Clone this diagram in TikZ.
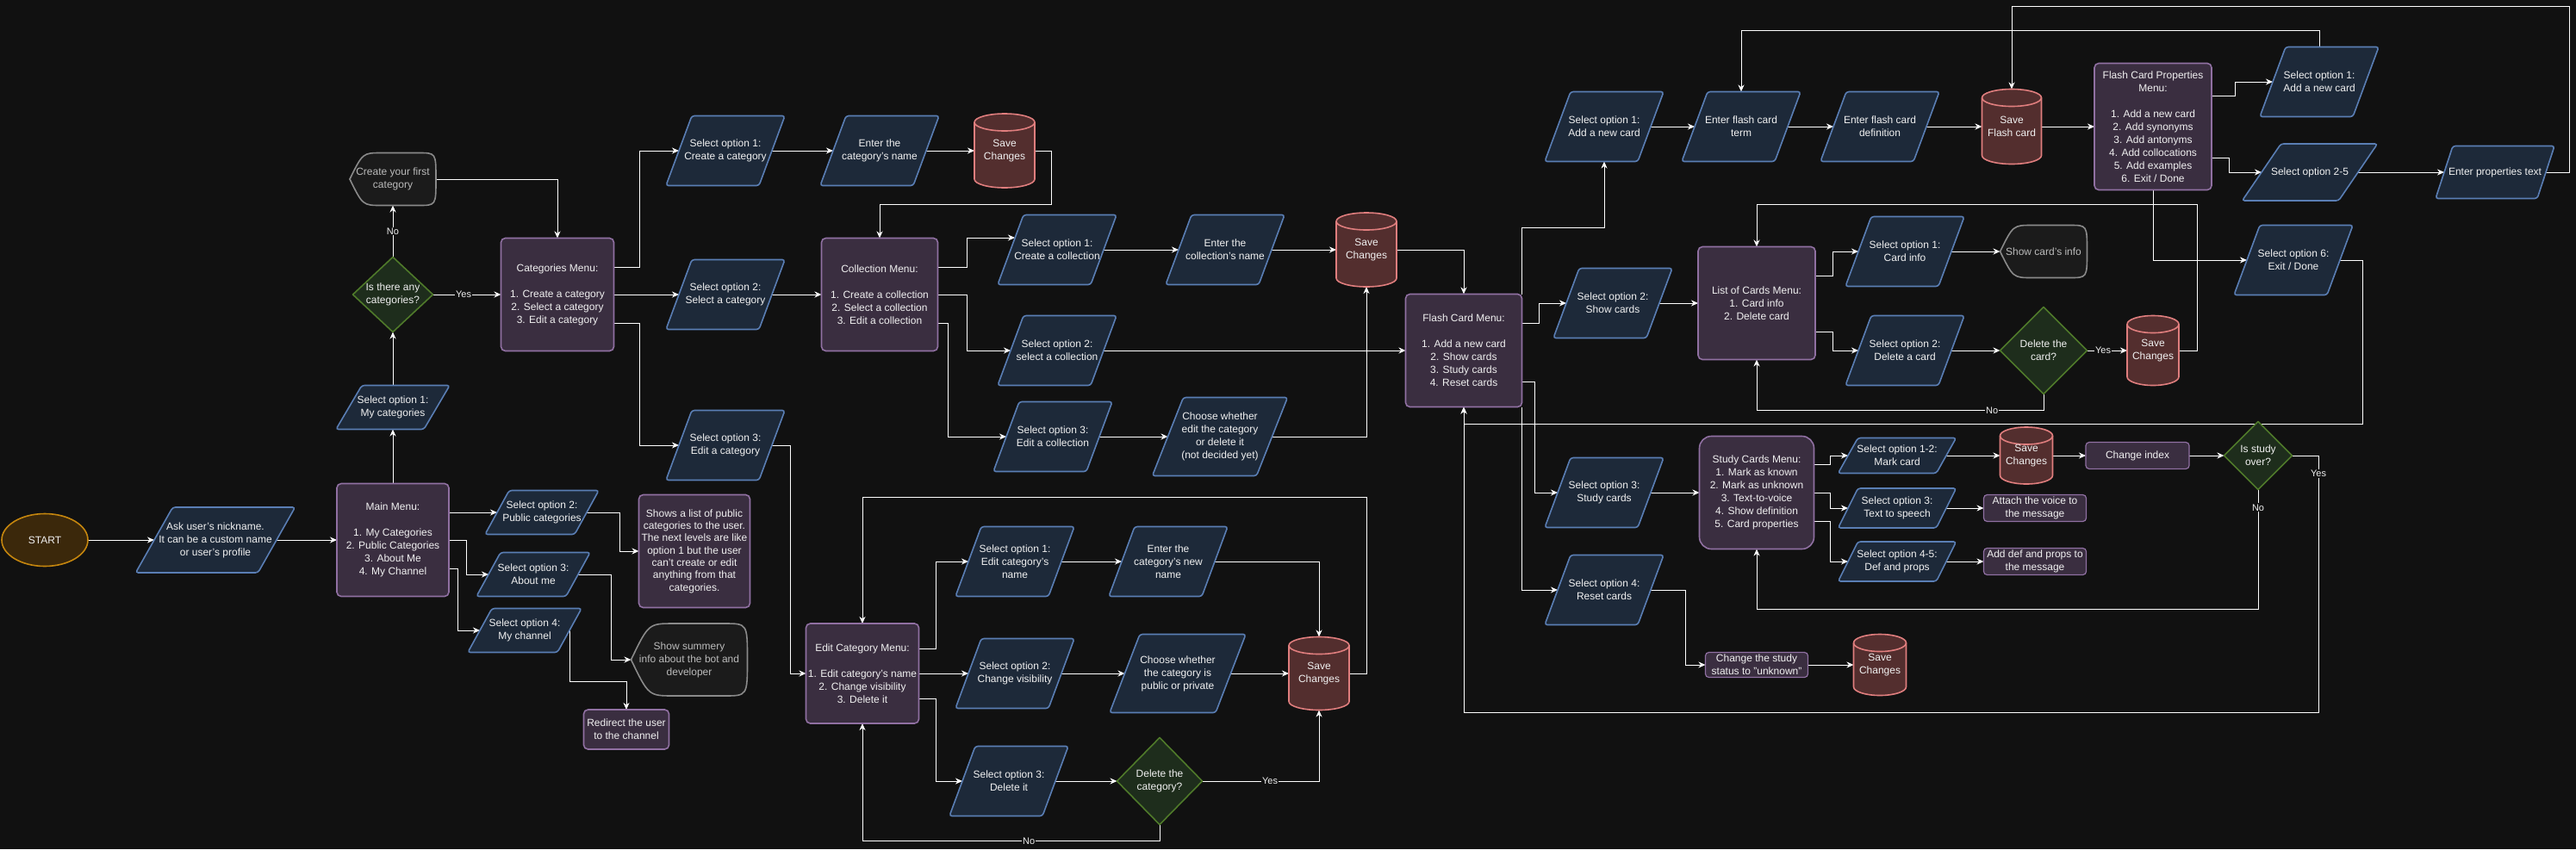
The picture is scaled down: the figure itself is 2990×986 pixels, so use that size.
\documentclass[tikz,border=0pt]{standalone}
\usepackage{fontspec}
\setmainfont{Liberation Sans}
\usetikzlibrary{arrows.meta,shapes.geometric}
\definecolor{bg}{HTML}{111111}
\definecolor{pfill}{HTML}{1D2939}
\definecolor{pline}{HTML}{5A7EB4}
\definecolor{mfill}{HTML}{3A2E40}
\definecolor{mline}{HTML}{9070A2}
\definecolor{cfill}{HTML}{532E2E}
\definecolor{cline}{HTML}{E07E7E}
\definecolor{dfill}{HTML}{1E2D1C}
\definecolor{dline}{HTML}{4F7A2A}
\definecolor{sfill}{HTML}{3B280B}
\definecolor{sline}{HTML}{C5860E}
\definecolor{xfill}{HTML}{1B1B1B}
\definecolor{xline}{HTML}{8A8A8A}
\definecolor{txt}{HTML}{F0F0F0}
\definecolor{xtxt}{HTML}{BBBBBB}
\pgfdeclarelayer{bgl}\pgfdeclarelayer{edgel}\pgfsetlayers{bgl,edgel,main}
\tikzset{
 nbase/.style={inner sep=0pt, outer sep=0pt, align=center, text=txt, font=\fontsize{12}{15}\selectfont},
 anchorbox/.style={nbase, rectangle},
 menu/.style={nbase, rectangle, rounded corners=5pt, draw=mline, fill=mfill, line width=1.6pt},
 smallbox/.style={menu, rounded corners=4pt, line width=1.2pt},
 startnode/.style={nbase, ellipse, draw=sline, fill=sfill, line width=1.6pt, minimum width=100pt, minimum height=61pt},
 pshape/.style={draw=pline, fill=pfill, line width=1.6pt, rounded corners=3pt},
 cshape/.style={draw=cline, fill=cfill, line width=1.6pt},
 dshape/.style={draw=dline, fill=dfill, line width=1.6pt, line join=round},
 xshape/.style={draw=xline, fill=xfill, line width=1.6pt},
 conn/.style={draw=white, line width=1pt, -{Stealth[length=8pt,width=7pt,inset=2.5pt]}},
 lbl/.style={font=\fontsize{11}{12}\selectfont, text=txt, fill=bg, inner sep=1pt},
}
% parallelogram: name x y w h offset text
\newcommand{\mypara}[7]{%
  \path[pshape] ({#2-#4/2},{#3+#5/2}) -- ({#2+#4/2-#6},{#3+#5/2}) -- ({#2+#4/2},{#3-#5/2}) -- ({#2-#4/2+#6},{#3-#5/2}) -- cycle;
  \node[anchorbox, minimum width={(#4-#6)*1pt}, minimum height={#5*1pt}] (#1) at (#2,#3) {#7};}
% cylinder: name x y w h text
\newcommand{\mycyl}[6]{%
  \pgfmathsetmacro\cyL{#2-#4/2}\pgfmathsetmacro\cyR{#2+#4/2}%
  \pgfmathsetmacro\cyT{#3-#5/2+10}\pgfmathsetmacro\cyB{#3+#5/2-10}%
  \pgfmathsetmacro\cyK{0.5523*#4/2}%
  \path[cshape] (\cyL,\cyT) -- (\cyL,\cyB) .. controls (\cyL,{\cyB+5.523}) and ({#2-\cyK},{\cyB+10}) .. (#2,{\cyB+10}) .. controls ({#2+\cyK},{\cyB+10}) and (\cyR,{\cyB+5.523}) .. (\cyR,\cyB) -- (\cyR,\cyT) .. controls (\cyR,{\cyT-5.523}) and ({#2+\cyK},{\cyT-10}) .. (#2,{\cyT-10}) .. controls ({#2-\cyK},{\cyT-10}) and (\cyL,{\cyT-5.523}) .. (\cyL,\cyT) -- cycle;
  \path[cshape, fill=none] (\cyL,\cyT) .. controls (\cyL,{\cyT+5.523}) and ({#2-\cyK},{\cyT+10}) .. (#2,{\cyT+10}) .. controls ({#2+\cyK},{\cyT+10}) and (\cyR,{\cyT+5.523}) .. (\cyR,\cyT);
  \node[anchorbox, minimum width=#4pt, minimum height=#5pt] (#1) at (#2,#3) {#6};}
% display shape: name x y w h text
\newcommand{\mydisp}[6]{%
  \pgfmathsetmacro\dsL{#2-#4/2}\pgfmathsetmacro\dsR{#2+#4/2}%
  \pgfmathsetmacro\dsT{#3-#5/2}\pgfmathsetmacro\dsB{#3+#5/2}%
  \pgfmathsetmacro\dsA{#2-#4/2+0.37*#4}\pgfmathsetmacro\dsC{#2-#4/2+0.15*#4}%
  \pgfmathsetmacro\dsD{#2+#4/2-0.2*#4}%
  \path[xshape] (\dsL,#3) .. controls (\dsC,\dsT) .. (\dsA,\dsT) -- (\dsD,\dsT) .. controls (\dsR,\dsT) .. (\dsR,#3) .. controls (\dsR,\dsB) .. (\dsD,\dsB) -- (\dsA,\dsB) .. controls (\dsC,\dsB) .. (\dsL,#3) -- cycle;
  \node[anchorbox, text=xtxt, minimum width=#4pt, minimum height=#5pt] (#1) at (#2,#3) {#6};}
% diamond: name x y w h text
\newcommand{\mydiam}[6]{%
  \path[dshape] ({#2-#4/2},#3) -- (#2,{#3-#5/2}) -- ({#2+#4/2},#3) -- (#2,{#3+#5/2}) -- cycle;
  \node[anchorbox, minimum width=#4pt, minimum height=#5pt] (#1) at (#2,#3) {#6};}
\begin{document}
\begin{tikzpicture}[x=1pt,y=-1pt]
\begin{pgfonlayer}{bgl}
\fill[bg] (0,0) rectangle (2990,986);
\end{pgfonlayer}
\useasboundingbox (0,0) rectangle (2990,986);

% ---------- nodes ----------
\node[startnode] (start) at (52,627) {START};
\mypara{ask}{250}{627}{185}{76}{43}{Ask user's nickname.\\It can be a custom name\\or user's profile}
\node[menu, minimum width=130pt, minimum height=131pt] (main) at (456,627) {Main Menu:\\[15pt]1. My Categories\\2. Public Categories\\3. About Me\\4. My Channel};
\mypara{opt1my}{456}{473}{132}{51}{30}{Select option 1:\\My categories}
\mydiam{dec1}{456}{342}{93}{87}{Is there any\\categories?}
\mydisp{first}{456}{208}{100}{61}{Create your first\\category}
\node[menu, minimum width=131pt, minimum height=131pt] (catmenu) at (647,342) {Categories Menu:\\[15pt]1. Create a category\\2. Select a category\\3. Edit a category};
\mypara{copt1}{842}{175}{138}{81}{30}{Select option 1:\\Create a category}
\mypara{copt2}{842}{342}{138}{81}{30}{Select option 2:\\Select a category}
\mypara{copt3}{842}{517}{138}{81}{30}{Select option 3:\\Edit a category}
\mypara{entercat}{1021}{175}{138}{81}{30}{Enter the\\category's name}
\mycyl{save1}{1166}{175}{70}{86}{Save\\Changes}
\node[menu, minimum width=135pt, minimum height=131pt] (colmenu) at (1021,342) {Collection Menu:\\[15pt]1. Create a collection\\2. Select a collection\\3. Edit a collection};
\mypara{colopt1}{1227}{290}{138}{81}{30}{Select option 1:\\Create a collection}
\mypara{entercol}{1422}{290}{138}{81}{30}{Enter the\\collection's name}
\mycyl{save2}{1586}{290}{70}{86}{Save\\Changes}
\mypara{colopt2}{1227}{407}{138}{81}{30}{Select option 2:\\select a collection}
\mypara{colopt3}{1222}{507}{138}{81}{30}{Select option 3:\\Edit a collection}
\mypara{choose1}{1416}{507}{157}{91}{36}{Choose whether\\edit the category\\or delete it\\(not decided yet)}
\node[menu, minimum width=135pt, minimum height=131pt] (fcm) at (1699,407) {Flash Card Menu:\\[15pt]1. Add a new card\\2. Show cards\\3. Study cards\\4. Reset cards};
\mypara{pub}{629}{595}{132}{51}{28}{Select option 2:\\Public categories}
\mypara{about}{619}{667}{132}{51}{28}{Select option 3:\\About me}
\mypara{chan}{609}{732}{132}{51}{28}{Select option 4:\\My channel}
\node[menu, minimum width=129pt, minimum height=131pt, font=\fontsize{12}{14.3}\selectfont] (shows) at (806,640) {Shows a list of public\\categories to the user.\\The next levels are like\\option 1 but the user\\can't create or edit\\anything from that\\categories.};
\mydisp{summ}{800}{766}{135}{84}{Show summery\\info about the bot and\\developer}
\node[menu, minimum width=99pt, minimum height=46pt] (redirect) at (727,847) {Redirect the user\\to the channel};
\node[menu, minimum width=131pt, minimum height=116pt] (editmenu) at (1001,782) {Edit Category Menu:\\[15pt]1. Edit category's name\\2. Change visibility\\3. Delete it};
\mypara{eopt1}{1178}{652}{138}{81}{30}{Select option 1:\\Edit category's\\name}
\mypara{enternew}{1356}{652}{138}{81}{30}{Enter the\\category's new\\name}
\mypara{eopt2}{1178}{782}{138}{81}{30}{Select option 2:\\Change visibility}
\mypara{choose2}{1367}{782}{158}{91}{35}{Choose whether\\the category is\\public or private}
\mycyl{save3}{1531}{782}{70}{85}{Save\\Changes}
\mypara{eopt3}{1171}{907}{138}{81}{30}{Select option 3:\\Delete it}
\mydiam{dec2}{1346}{907}{99}{101}{Delete the\\category?}
\mypara{fopt1}{1862}{147}{138}{81}{30}{Select option 1:\\Add a new card}
\mypara{term}{2021}{147}{138}{81}{30}{Enter flash card\\term}
\mypara{defn}{2182}{147}{138}{81}{30}{Enter flash card\\definition}
\mycyl{savefc}{2335}{147}{69}{87}{Save\\Flash card}
\node[menu, minimum width=136pt, minimum height=147pt] (props) at (2499,147) {Flash Card Properties\\Menu:\\[15pt]1. Add a new card\\2. Add synonyms\\3. Add antonyms\\4. Add collocations\\5. Add examples\\6. Exit / Done};
\mypara{popt1}{2692}{95}{138}{81}{30}{Select option 1:\\Add a new card}
\mypara{popt25}{2681}{200}{157}{66}{45}{Select option 2-5}
\mypara{proptext}{2896}{200}{138}{61}{20}{Enter properties text}
\mypara{popt6}{2662}{302}{138}{81}{30}{Select option 6:\\Exit / Done}
\mypara{fopt2}{1872}{352}{138}{81}{30}{Select option 2:\\Show cards}
\node[menu, minimum width=136pt, minimum height=131pt] (loc) at (2039,352) {List of Cards Menu:\\1. Card info\\2. Delete card};
\mypara{lopt1}{2211}{292}{138}{81}{30}{Select option 1:\\Card info}
\mydisp{showinfo}{2372}{292}{101}{61}{Show card's info}
\mypara{lopt2}{2211}{407}{138}{81}{30}{Select option 2:\\Delete a card}
\mydiam{dec3}{2372}{407}{101}{101}{Delete the\\card?}
\mycyl{save4}{2499}{407}{60}{81}{Save\\Changes}
\mypara{fopt3}{1862}{572}{138}{81}{30}{Select option 3:\\Study cards}
\mypara{fopt4}{1862}{685}{138}{81}{30}{Select option 4:\\Reset cards}
\node[menu, rounded corners=14pt, minimum width=133pt, minimum height=131pt] (scm) at (2039,572) {Study Cards Menu:\\1. Mark as known\\2. Mark as unknown\\3. Text-to-voice\\4. Show definition\\5. Card properties};
\mypara{sopt12}{2202}{529}{137}{41}{23}{Select option 1-2:\\Mark card}
\mycyl{save5}{2352}{529}{61}{66}{Save\\Changes}
\node[smallbox, minimum width=120pt, minimum height=31pt] (chidx) at (2481,529) {Change index};
\mydiam{dec4}{2621}{529}{79}{79}{Is study\\over?}
\mypara{sopt3}{2202}{590}{137}{46}{23}{Select option 3:\\Text to speech}
\node[smallbox, minimum width=119pt, minimum height=31pt] (attach) at (2362,590) {Attach the voice to\\the message};
\mypara{sopt45}{2202}{652}{137}{46}{23}{Select option 4-5:\\Def and props}
\node[smallbox, minimum width=119pt, minimum height=31pt] (adddef) at (2362,652) {Add def and props to\\the message};
\node[smallbox, minimum width=119pt, minimum height=29pt] (chstat) at (2039,772) {Change the study\\status to "unknown"};
\mycyl{save6}{2182}{772}{61}{71}{Save\\Changes}

% ---------- connectors ----------
\begin{pgfonlayer}{edgel}
\draw[conn] (start) -- (ask);
\draw[conn] (ask) -- (main);
\draw[conn] (main.north) -- (opt1my.south);
\draw[conn] (opt1my.north) -- (dec1.south);
\draw[conn] (dec1.north) -- node[lbl]{No} (first.south);
\draw[conn] (first.east) -| (catmenu.north);
\draw[conn] (dec1.east) -- node[lbl,pos=0.45]{Yes} (catmenu.west);
\draw[conn] ([yshift=32pt]catmenu.east) -- ++(30,0) |- (copt1);
\draw[conn] (catmenu.east) -- (copt2);
\draw[conn] ([yshift=-33pt]catmenu.east) -- ++(30,0) |- (copt3);
\draw[conn] (copt1) -- (entercat);
\draw[conn] (entercat) -- (save1);
\draw[conn] (save1.east) -| (1220,237) -| (colmenu.north);
\draw[conn] (copt2) -- (colmenu);
\draw[conn] (copt3.east) -| (917,782) -- (editmenu.west);
\draw[conn] ([yshift=32pt]colmenu.east) -- ++(34,0) |- ([xshift=5pt,yshift=14pt]colopt1.west);
\draw[conn] (colopt1) -- (entercol);
\draw[conn] (entercol) -- (save2);
\draw[conn] (save2.east) -| (fcm.north);
\draw[conn] (colmenu.east) -- ++(34,0) |- (colopt2);
\draw[conn] ([yshift=-33pt]colmenu.east) -- ++(12,0) |- (colopt3);
\draw[conn] (colopt3) -- (choose1);
\draw[conn] (choose1.east) -| (save2.south);
\draw[conn] (colopt2.east) -- (fcm.west);
\draw[conn] ([yshift=32pt]main.east) -- (pub);
\draw[conn] (main.east) -- ++(20,0) |- (about);
\draw[conn] ([yshift=-33pt]main.east) -- ++(10,0) |- (chan);
\draw[conn] (pub.east) -- ++(38,0) |- (shows);
\draw[conn] (about.east) -- ++(38,0) |- (summ);
\draw[conn] (chan.east) -- ++(0,59) -| (redirect.north);
\draw[conn] ([yshift=29pt]editmenu.east) -- ++(20,0) |- (eopt1);
\draw[conn] (eopt1) -- (enternew);
\draw[conn] (enternew.east) -| (save3.north);
\draw[conn] (editmenu) -- (eopt2);
\draw[conn] (eopt2) -- (choose2);
\draw[conn] (choose2) -- (save3);
\draw[conn] (save3.east) -| (1586,577) -| (editmenu.north);
\draw[conn] ([yshift=-29pt]editmenu.east) -- ++(20,0) |- (eopt3);
\draw[conn] (eopt3) -- (dec2);
\draw[conn] (dec2.east) -| node[lbl,pos=0.29]{Yes} (save3.south);
\draw[conn] (dec2.south) -- ++(0,19) -| node[lbl,pos=0.22]{No} (editmenu.south);
\draw[conn] (fcm.north east) -- ++(0,-77) -| (fopt1.south);
\draw[conn] (fopt1) -- (term);
\draw[conn] (term) -- (defn);
\draw[conn] (defn) -- (savefc);
\draw[conn] (savefc) -- (props);
\draw[conn] (popt1.north) -- ++(0,-19) -| (term.north);
\draw[conn] (proptext.east) -| (2982,7) -| (savefc.north);
\draw[conn] ([yshift=36pt]props.east) -- ++(27,0) |- (popt1);
\draw[conn] ([yshift=-36pt]props.east) -- ++(20,0) |- (popt25);
\draw[conn] (popt25) -- (proptext);
\draw[conn] (props.south) |- (popt6);
\draw[conn] (popt6.east) -| (2742,492) -| (fcm.south);
\draw[conn] ([yshift=32pt]fcm.east) -- ++(20,0) |- (fopt2);
\draw[conn] (fopt2) -- (loc);
\draw[conn] ([yshift=32pt]loc.east) -- ++(20,0) |- (lopt1);
\draw[conn] (lopt1) -- (showinfo);
\draw[conn] ([yshift=-33pt]loc.east) -- ++(20,0) |- (lopt2);
\draw[conn] (lopt2) -- (dec3);
\draw[conn] (dec3) -- node[lbl,pos=0.4]{Yes} (save4);
\draw[conn] (save4.east) -| (2550,237) -| (loc.north);
\draw[conn] (dec3.south) -- ++(0,19) -| node[lbl,pos=0.09]{No} (loc.south);
\draw[conn] ([yshift=-36pt]fcm.east) -- ++(15,0) |- (fopt3);
\draw[conn] (fcm.south east) |- (fopt4);
\draw[conn] (fopt3) -- (scm);
\draw[conn] ([yshift=33pt]scm.east) -- ++(19,0) |- (sopt12);
\draw[conn] (scm.east) -- ++(19,0) |- (sopt3);
\draw[conn] ([yshift=-33pt]scm.east) -- ++(19,0) |- (sopt45);
\draw[conn] (sopt12) -- (save5);
\draw[conn] (save5) -- (chidx);
\draw[conn] (chidx) -- (dec4);
\draw[conn] (dec4.east) -| node[lbl,pos=0.535]{Yes} (2691,827) -| (fcm.south);
\draw[conn] (dec4.south) -- node[lbl,pos=0.15]{No} (2621,707) -| (scm.south);
\draw[conn] (sopt3) -- (attach);
\draw[conn] (sopt45) -- (adddef);
\draw[conn] (fopt4.east) -| (1956,772) -- (chstat);
\draw[conn] (chstat) -- (save6);
\end{pgfonlayer}
\end{tikzpicture}
\end{document}
